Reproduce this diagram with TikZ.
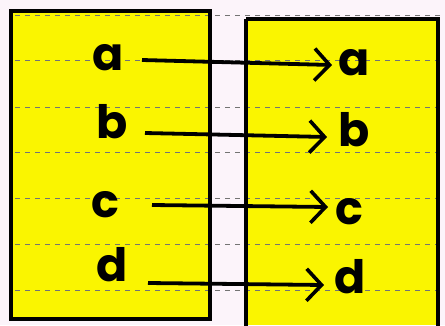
\documentclass[tikz,border=0pt]{standalone}
\usepackage{fontspec}
\setmainfont{Poppins}
\usetikzlibrary{arrows.meta,calc}
\definecolor{hiyellow}{RGB}{250,245,0}
\definecolor{pinkbg}{RGB}{252,244,250}
\begin{document}
\begin{tikzpicture}[x=1pt,y=-1pt,
  setbox/.style={draw=black,line width=3.2pt},
  ruled/.style={draw=black!55,line width=1pt,dash pattern=on 5pt off 5pt},
  elem/.style={font=\fontsize{46}{46}\selectfont\bfseries, inner sep=0pt, anchor=center},
  maparrow/.style={line width=3.8pt,-{Straight Barb[length=15pt,width=32pt,line width=3.6pt]}}]
\useasboundingbox (0,0) rectangle (445,325);
\fill[pinkbg] (0,0) rectangle (445,325);
\fill[hiyellow] (12,12) rectangle (210,318);
\fill[hiyellow] (246,19) rectangle (440,325);
% ruled lines
\foreach \yy in {15,60,107,152,198,244,290} {
  \draw[ruled] (15,\yy) -- (440,\yy);
}
\draw[setbox] (11,11) rectangle (210,319);
\draw[setbox] (246,19) -- (246,326);
\draw[setbox] (246,19) -- (438,19) -- (438,326);
% left elements
\node[elem] (la) at (108,58) {a};
\node[elem] (lb) at (112,122) {b};
\node[elem] (lc) at (105,205) {c};
\node[elem] (ld) at (112,265) {d};
% right elements
\node[elem] (ra) at (354,63) {a};
\node[elem] (rb) at (354,130) {b};
\node[elem] (rc) at (349,212) {c};
\node[elem] (rd) at (350,277) {d};
% arrows
\draw[maparrow] ($(la.center)+(34,2)$) -- ($(ra.center)+(-22,2)$);
\draw[maparrow] ($(lb.center)+(33,11)$) -- ($(rb.center)+(-27,7)$);
\draw[maparrow] ($(lc.center)+(47,0)$) -- ($(rc.center)+(-21,-5)$);
\draw[maparrow] ($(ld.center)+(36,18)$) -- ($(rd.center)+(-26,8)$);
\end{tikzpicture}
\end{document}
